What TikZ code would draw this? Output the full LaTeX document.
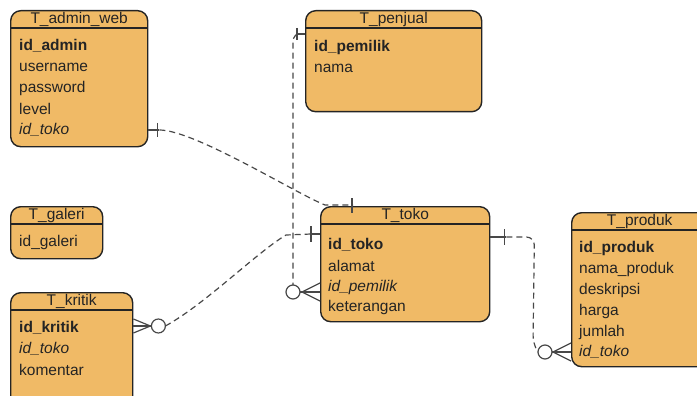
\documentclass[tikz,border=0pt]{standalone}
\usepackage{fontspec}
\setmainfont{Liberation Sans}
\usetikzlibrary{calc}

\definecolor{tblfill}{RGB}{240,186,102}
\definecolor{tblline}{RGB}{36,36,36}
\definecolor{relline}{RGB}{72,72,72}

\begin{document}
\begin{tikzpicture}[x=1pt,y=-1pt,
  every node/.style={font=\fontsize{15.5}{18}\selectfont,text=tblline},
  tbl/.style={draw=tblline,fill=tblfill,line width=1.4pt,rounded corners=10pt,anchor=north west,inner sep=0pt},
  hdr/.style={draw=tblline,line width=1.4pt},
  ttl/.style={inner sep=0pt},
  fld/.style={anchor=west,inner sep=0pt},
  key/.style={fld,font=\fontsize{15.5}{18}\selectfont\bfseries},
  fk/.style={fld,font=\fontsize{15.5}{18}\selectfont\itshape},
  rel/.style={draw=relline,line width=1.2pt,dash pattern=on 6pt off 4pt},
  relend/.style={draw=relline,line width=1.2pt}]
  \useasboundingbox (0,0) rectangle (697,396);
  \clip (0,0) rectangle (697,396);

  % tables
  \node[tbl,minimum width=137pt,minimum height=136pt] (admin) at (10,10) {};
  \draw[hdr] ($(admin.north west)+(0,18)$) -- ($(admin.north east)+(0,18)$);
  \node[ttl] (admin-t) at ($(admin.north)+(0,9)$) {T\_admin\_web};
  \node[key] (admin-r1) at (19,46) {id\_admin};
  \node[fld] (admin-r2) at (19,67) {username};
  \node[fld] (admin-r3) at (19,88) {password};
  \node[fld] (admin-r4) at (19,109) {level};
  \node[fk] (admin-r5) at (19,130) {id\_toko};

  \node[tbl,minimum width=176pt,minimum height=101pt] (penjual) at (305,10) {};
  \draw[hdr] ($(penjual.north west)+(0,18)$) -- ($(penjual.north east)+(0,18)$);
  \node[ttl] (penjual-t) at ($(penjual.north)+(0,9)$) {T\_penjual};
  \node[key] (penjual-r1) at (314,47) {id\_pemilik};
  \node[fld] (penjual-r2) at (314,68) {nama};

  \node[tbl,minimum width=92pt,minimum height=52pt] (galeri) at (10,206) {};
  \draw[hdr] ($(galeri.north west)+(0,18)$) -- ($(galeri.north east)+(0,18)$);
  \node[ttl] (galeri-t) at ($(galeri.north)+(0,9)$) {T\_galeri};
  \node[fld] (galeri-r1) at (19,242) {id\_galeri};

  \node[tbl,minimum width=122pt,minimum height=115pt] (kritik) at (10,292) {};
  \draw[hdr] ($(kritik.north west)+(0,18)$) -- ($(kritik.north east)+(0,18)$);
  \node[ttl] (kritik-t) at ($(kritik.north)+(0,9)$) {T\_kritik};
  \node[key] (kritik-r1) at (19,328) {id\_kritik};
  \node[fk] (kritik-r2) at (19,349) {id\_toko};
  \node[fld] (kritik-r3) at (19,370) {komentar};

  \node[tbl,minimum width=169pt,minimum height=115pt] (toko) at (320,206) {};
  \draw[hdr] ($(toko.north west)+(0,18)$) -- ($(toko.north east)+(0,18)$);
  \node[ttl] (toko-t) at ($(toko.north)+(0,9)$) {T\_toko};
  \node[key] (toko-r1) at (328,245) {id\_toko};
  \node[fld] (toko-r2) at (328,266) {alamat};
  \node[fk] (toko-r3) at (328,287) {id\_pemilik};
  \node[fld] (toko-r4) at (328,307) {keterangan};

  \node[tbl,minimum width=136pt,minimum height=154pt] (produk) at (571,212) {};
  \draw[hdr] ($(produk.north west)+(0,18)$) -- ($(produk.north east)+(0,18)$);
  \node[ttl] (produk-t) at ($(produk.north)+(0,9)$) {T\_produk};
  \node[key] (produk-r1) at (579,248) {id\_produk};
  \node[fld] (produk-r2) at (579,269) {nama\_produk};
  \node[fld] (produk-r3) at (579,290) {deskripsi};
  \node[fld] (produk-r4) at (579,311) {harga};
  \node[fld] (produk-r5) at (579,332) {jumlah};
  \node[fk] (produk-r6) at (579,352) {id\_toko};

  % T_admin_web -- T_toko
  \coordinate (r1a) at (admin.east |- admin-r5);
  \coordinate (r1b) at ($(toko.north west)+(33,-1)$);
  \draw[relend] (r1a) -- ++(11,0);
  \draw[relend] ($(r1a)+(9,-7)$) -- ++(0,14);
  \draw[rel] ($(r1a)+(11,0)$) .. controls +(35,0) and +(-30,-12) .. ($(toko.north west)+(5,-1)$) -- (r1b);
  \draw[relend] ($(r1b)+(-1,-7)$) -- ++(0,15);

  % T_penjual -- T_toko
  \coordinate (r2a) at ($(penjual.north west)+(0,24)$);
  \coordinate (r2b) at ($(toko.west |- toko-r3)+(0,5)$);
  \draw[relend] (r2a) -- ++(-8,0);
  \draw[relend] ($(r2a)+(-8,-6)$) -- ++(0,12);
  \draw[rel,rounded corners=3pt] ($(r2a)+(-8,0)$) -- ($(r2a)+(-12,4)$) -- ($(r2b)+(-27,-7)$);
  \draw[relend] (r2b) -- ++(-21,0);
  \draw[relend] ($(r2b)+(0,-9)$) -- ($(r2b)+(-18,0)$) -- ($(r2b)+(0,9)$);
  \draw[relend,fill=white] ($(r2b)+(-27,0)$) circle (7pt);

  % T_kritik -- T_toko
  \coordinate (r3a) at ($(kritik.east |- kritik-r1)+(0,-2)$);
  \coordinate (r3b) at ($(toko.west |- toko-r1)+(0,-11)$);
  \draw[relend] (r3a) -- ++(18,0);
  \draw[relend] ($(r3a)+(0,-7)$) -- ($(r3a)+(17,0)$) -- ($(r3a)+(0,7)$);
  \draw[relend,fill=white] ($(r3a)+(25,0)$) circle (7pt);
  \draw[rel] ($(r3a)+(32,0)$) .. controls +(40,-22) and +(-30,18) .. ($(r3b)+(-34,1)$) -- ($(r3b)+(-9,0)$);
  \draw[relend] ($(r3b)+(-9,0)$) -- (r3b);
  \draw[relend] ($(r3b)+(-9,-8)$) -- ++(0,16);

  % T_toko -- T_produk
  \coordinate (r4a) at ($(toko.east |- toko-r1)+(0,-8)$);
  \coordinate (r4b) at (produk.west |- produk-r6);
  \draw[relend] (r4a) -- ++(16,0);
  \draw[relend] ($(r4a)+(14,-8)$) -- ++(0,16);
  \draw[rel,rounded corners=8pt] ($(r4a)+(16,0)$) -- ($(r4a)+(44,0)$) -- ($(r4b)+(-38,-8)$) -- ($(r4b)+(-33,0)$);
  \draw[relend] (r4b) -- ++(-19,0);
  \draw[relend] ($(r4b)+(0,-9)$) -- ($(r4b)+(-18,0)$) -- ($(r4b)+(0,9)$);
  \draw[relend,fill=white] ($(r4b)+(-26,0)$) circle (7pt);
\end{tikzpicture}
\end{document}
